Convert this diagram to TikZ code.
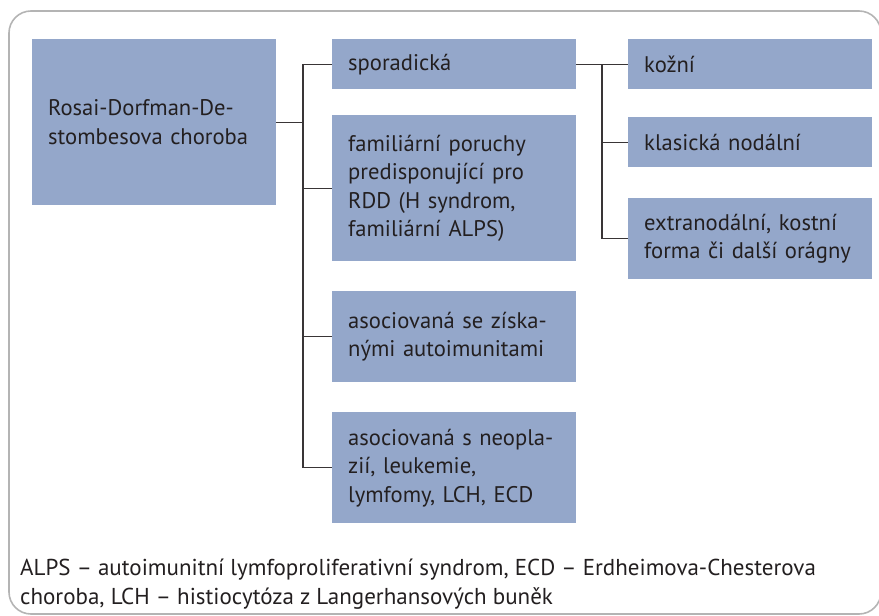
\documentclass[tikz,border=0pt]{standalone}
\usepackage{fontspec}
\setmainfont{PT Sans}
\usetikzlibrary{positioning}
\definecolor{boxblue}{HTML}{94A7CA}
\definecolor{inkgray}{HTML}{231F20}
\definecolor{framegray}{HTML}{B4B4B4}
\tikzset{
  catbox/.style={fill=boxblue,text=inkgray,anchor=north west,align=left,
    text width=212pt,inner xsep=16pt,inner ysep=0pt,minimum height=#1,
    font=\fontsize{22.6}{28.5}\selectfont},
  conn/.style={draw=inkgray!90,line width=1.3pt}
}
\begin{document}
\begin{tikzpicture}[x=1pt,y=-1pt]
  \useasboundingbox (0,0) rectangle (879,616);
  \draw[framegray,line width=1.6pt,rounded corners=22pt] (9,11) rectangle (881,614);

  \node[catbox=166pt] (rdd) at (32,39)  {Rosai-Dorfman-De-\\stombesova choroba};

  \node[catbox=50pt]  (spor) at (332,39)  {sporadická};
  \node[catbox=146pt] (fam)  at (332,115) {familiární poruchy\\predisponující pro\\RDD (H syndrom,\\familiární ALPS)};
  \node[catbox=91pt]  (ziska) at (332,291) {asociovaná se získa-\\nými autoimunitami};
  \node[catbox=111pt] (neo)  at (332,412) {asociovaná s neopla-\\zií, leukemie,\\lymfomy, LCH, ECD};

  \node[catbox=50pt]  (kozni) at (628,39)  {kožní};
  \node[catbox=50pt]  (nod)   at (628,117) {klasická nodální};
  \node[catbox=81pt]  (extra) at (628,198) {extranodální, kostní\\forma či další orágny};

  \coordinate (trunkL) at (303,0);
  \coordinate (trunkR) at (602,0);

  % levy strom
  \draw[conn] (rdd.east) -- (rdd.east -| trunkL);
  \draw[conn] (spor.west) -- (spor.west -| trunkL) -- (neo.west -| trunkL) -- (neo.west);
  \foreach \n in {fam,ziska}
    \draw[conn] (\n.west -| trunkL) -- (\n.west);

  % pravy strom
  \draw[conn] (spor.east) -- (kozni.west);
  \draw[conn] (spor.east -| trunkR) -- (extra.west -| trunkR) -- (extra.west);
  \draw[conn] (nod.west -| trunkR) -- (nod.west);

  \node[anchor=north west,align=left,text=inkgray,inner sep=0pt,
        font=\fontsize{23}{29}\selectfont] (note) at (20,559)
    {ALPS – autoimunitní lymfoproliferativní syndrom, ECD – Erdheimova-Chesterova\\
     choroba, LCH – histiocytóza z Langerhansových buněk};
\end{tikzpicture}
\end{document}
